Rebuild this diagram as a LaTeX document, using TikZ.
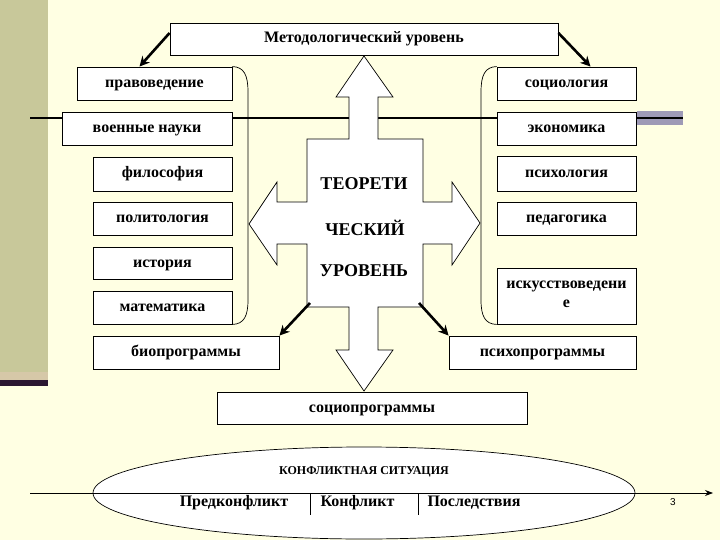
\documentclass[tikz,border=0pt]{standalone}
\usepackage{fontspec}
\setmainfont{Liberation Serif}
\newfontfamily\numfont{Liberation Sans}
\usetikzlibrary{shapes.geometric,arrows.meta,calc}
\definecolor{cream}{HTML}{FFFFE3}
\definecolor{olivebar}{HTML}{C8C89A}
\definecolor{darkplum}{HTML}{2B1731}
\definecolor{tanbar}{HTML}{D6C8A8}
\definecolor{lavgrey}{HTML}{9E9AB6}
\begin{document}
\begin{tikzpicture}[x=1pt,y=-1pt,
  boxbase/.style={draw=black, line width=0.9pt, fill=white, inner sep=0pt,
    font=\fontsize{16}{19}\selectfont\bfseries},
  box/.style={boxbase, text height=15pt, text depth=7pt},
  centtxt/.style={inner sep=0pt, font=\fontsize{18}{21}\selectfont\bfseries},
  fatarrow/.style={line width=2.6pt, -{Stealth[length=10pt,width=10pt]}},
  bottxt/.style={inner sep=0pt, font=\fontsize{16}{19}\selectfont\bfseries},
  crossshape/.style={draw=black, line width=0.7pt, fill=white, line join=miter}
]
% background
\fill[cream] (0,0) rectangle (720,540);
\useasboundingbox (0,0) rectangle (720,540);
\fill[olivebar] (0,0) rectangle (48,372);
\fill[tanbar] (0,372) rectangle (48,380);
\fill[darkplum] (0,380) rectangle (48,386);

% grey band and horizontal line
\fill[lavgrey] (637,111) rectangle (683,125);
\coordinate (hl1) at (30,118);
\coordinate (hl2) at (683,118);
\draw[line width=1.8pt] (hl1) -- (hl2);

% top box
\node[box, minimum width=388pt, minimum height=32pt] (metod) at (364,39) {Методологический уровень};

% left column
\node[box, minimum width=155pt, minimum height=33pt] (prav) at (154.5,83.5) {правоведение};
\node[box, minimum width=170pt, minimum height=33pt] (voen) at (147,128.5) {военные науки};
\node[box, minimum width=139pt, minimum height=34pt] (filo) at (162.5,174) {философия};
\node[box, minimum width=139pt, minimum height=33pt] (polit) at (162.5,218.5) {политология};
\node[box, minimum width=139pt, minimum height=32pt] (ist) at (162.5,263) {история};
\node[box, minimum width=139pt, minimum height=33pt] (mat) at (162.5,307.5) {математика};
\node[box, minimum width=186pt, minimum height=33pt] (bio) at (186,352.5) {биопрограммы};

% right column
\node[box, minimum width=139pt, minimum height=33pt] (soc) at (566.5,83.5) {социология};
\node[box, minimum width=139pt, minimum height=33pt] (eco) at (566.5,128.5) {экономика};
\node[box, minimum width=139pt, minimum height=35pt] (psy) at (566.5,173.5) {психология};
\node[box, minimum width=139pt, minimum height=33pt] (ped) at (566.5,218.5) {педагогика};
\node[boxbase, align=center, minimum width=139pt, minimum height=56pt] (isk) at (566.5,296) {\raisebox{3pt}{искусствоведени}\\\raisebox{3pt}{е}};
\node[box, minimum width=187pt, minimum height=33pt] (psyprog) at (542.5,352.5) {психопрограммы};

% bottom box
\node[box, minimum width=310pt, minimum height=32pt] (socprog) at (372,408) {социопрограммы};

% brackets
\draw[line width=0.7pt] (prav.north east) .. controls (244,67) and (248,75) .. (248,92)
  -- (248,300) .. controls (248,316) and (244,324) .. (mat.south east);
\draw[line width=0.7pt] (soc.north west) .. controls (485,67) and (481,75) .. (481,92)
  -- (481,300) .. controls (481,316) and (485,324) .. (isk.south west);

% central cross arrow
\draw[crossshape] (364,56) -- (393,97) -- (378,97) -- (378,139) -- (423,139) -- (423,202)
  -- (452,202) -- (452,182) -- (480,223) -- (452,265) -- (452,244) -- (423,244)
  -- (423,307) -- (378,307) -- (378,350) -- (393,350) -- (364,391) -- (336,350)
  -- (349,350) -- (349,307) -- (307,307) -- (307,244) -- (277,244) -- (277,265)
  -- (249,224) -- (277,182) -- (277,202) -- (307,202) -- (307,139) -- (349,139)
  -- (349,97) -- (336,97) -- cycle;
\node[centtxt] (t1) at (364,184) {ТЕОРЕТИ};
\node[centtxt] (t2) at (365,227.5) {ЧЕСКИЙ};
\node[centtxt] (t3) at (364,271) {УРОВЕНЬ};
\coordinate (crossBL) at (310,303);
\coordinate (crossBR) at (419,303);

% diagonal arrows
\draw[fatarrow] ([yshift=6pt]metod.west) -- ([xshift=-15pt]prav.north);
\draw[fatarrow] ([yshift=6pt]metod.east) -- ([xshift=24pt]soc.north);
\draw[fatarrow] (crossBL) -- (bio.north east);
\draw[fatarrow] (crossBR) -- (psyprog.north west);

% conflict situation
\node[draw=black, line width=0.7pt, fill=white, ellipse, inner sep=0pt,
  minimum width=542pt, minimum height=92pt] (sit) at (364,493) {};
\coordinate (tl1) at (30,493);
\coordinate (tl2) at (713,493);
\draw[line width=0.8pt, -{Stealth[length=8pt,width=6pt]}] (tl1) -- (tl2);
\draw[line width=0.8pt] (310,493) -- (310,515);
\draw[line width=0.8pt] (418,493) -- (418,515);
\node[inner sep=0pt, font=\fontsize{12}{14}\selectfont\bfseries] (sittxt) at (364,472) {КОНФЛИКТНАЯ СИТУАЦИЯ};
\node[bottxt] (pre) at (234,503) {Предконфликт};
\node[bottxt] (konf) at (357.5,503) {Конфликт};
\node[bottxt] (post) at (474,503) {Последствия};
\node[inner sep=0pt, font=\numfont\fontsize{10}{12}\selectfont] (pg) at (673,502) {3};
\end{tikzpicture}
\end{document}
